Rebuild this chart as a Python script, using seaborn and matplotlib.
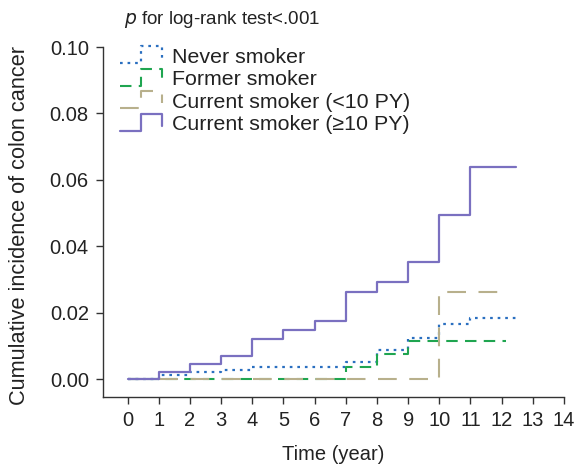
import numpy as np
import pandas as pd
import matplotlib
matplotlib.use("Agg")
import matplotlib.pyplot as plt
import seaborn as sns
from matplotlib.legend_handler import HandlerBase
from matplotlib.lines import Line2D

# ---- data ----
never_t = [0, 1, 2, 3, 4, 7, 8, 9, 10, 11, 12.5]
never_v = [0, 0.0011, 0.0020, 0.0028, 0.0036, 0.0052, 0.0087, 0.0123, 0.0167, 0.0185, 0.0185]
former_t = [0, 7, 8, 9, 12.15]
former_v = [0, 0.0035, 0.0075, 0.0114, 0.0114]
cur_low_t = [0, 10, 12.15]
cur_low_v = [0, 0.0263, 0.0263]
cur_high_t = [0, 1, 2, 3, 4, 5, 6, 7, 8, 9, 10, 11, 12.45]
cur_high_v = [0, 0.0021, 0.0045, 0.0068, 0.0121, 0.0148, 0.0176, 0.0261, 0.0292, 0.0352, 0.0494, 0.0639, 0.0639]
labels = ["Never smoker", "Former smoker", "Current smoker (<10 PY)", "Current smoker (\u226510 PY)"]
x_ticks = list(range(0, 15))
y_ticks = [0.00, 0.02, 0.04, 0.06, 0.08, 0.10]

series = [
    (never_t, never_v, "#2a6fc0", (0, (1.2, 2.2)), 1.6),
    (former_t, former_v, "#1fa550", (0, (5.5, 3.5)), 1.5),
    (cur_low_t, cur_low_v, "#b8b08c", (0, (9, 6)), 1.5),
    (cur_high_t, cur_high_v, "#7a70c0", "-", 1.6),
]

sns.set_style("ticks")
plt.rcParams["font.family"] = ["Liberation Sans", "DejaVu Sans"]

fig = plt.figure(figsize=(5.76, 4.68), dpi=100)
ax = fig.add_axes([102.7 / 576, 1 - 397 / 468, (564 - 102.7) / 576, (397 - 47) / 468])

handles = []
styles = {}
for (t, v, c, ls, lw), lab in zip(series, labels):
    df = pd.DataFrame({"t": t, "v": v})
    sns.lineplot(data=df, x="t", y="v", ax=ax, color=c, linestyle=ls, linewidth=lw,
                 drawstyle="steps-post", estimator=None, sort=False)
    h = Line2D([], [], color=c, linestyle=ls, linewidth=lw, label=lab)
    styles[id(h)] = ls
    handles.append(h)

ax.set_xlim(-0.8, 14)
ax.set_ylim(-0.0054, 0.10)
ax.set_xticks(x_ticks)
ax.set_yticks(y_ticks)
ax.set_yticklabels([f"{y:.2f}" for y in y_ticks])
ax.tick_params(axis="both", labelsize=14.5, length=5, width=1, color="#333333", labelcolor="#222222", pad=5)
for s in ["top", "right"]:
    ax.spines[s].set_visible(False)
for s in ["left", "bottom"]:
    ax.spines[s].set_color("#333333")
    ax.spines[s].set_linewidth(1.0)
ax.set_xlabel("Time (year)", fontsize=14.5, color="#222222", labelpad=11)
ax.set_ylabel("Cumulative incidence of colon cancer", fontsize=15.7, color="#222222")
ax.yaxis.set_label_coords(-0.157, 0.49)


class StepHandler(HandlerBase):
    def create_artists(self, legend, orig_handle, xdescent, ydescent, width, height, fontsize, trans):
        xs = np.array([0, 0.5, 0.5, 1.0, 1.0]) * width - xdescent
        ys = np.array([0.05, 0.05, 1.05, 1.05, 0.35]) * height - ydescent
        ln = Line2D(xs, ys, color=orig_handle.get_color(),
                    linestyle=styles[id(orig_handle)],
                    linewidth=orig_handle.get_linewidth())
        ln.set_transform(trans)
        return [ln]


leg = ax.legend(handles=handles, labels=labels, handler_map={Line2D: StepHandler()},
                loc="upper left", bbox_to_anchor=(120 / 576, 1 - 47 / 468),
                bbox_transform=fig.transFigure, frameon=False, fontsize=15.4,
                borderaxespad=0, borderpad=0, handlelength=1.95, handleheight=0.85,
                handletextpad=0.5, labelspacing=0.12)
for txt in leg.get_texts():
    txt.set_color("#222222")

fig.text(124 / 576, 1 - 20 / 468, r"$\it{p}$ for log-rank test<.001", fontsize=13.5,
         color="#222222", va="center", ha="left")

fig.savefig("out.png", dpi=100)
